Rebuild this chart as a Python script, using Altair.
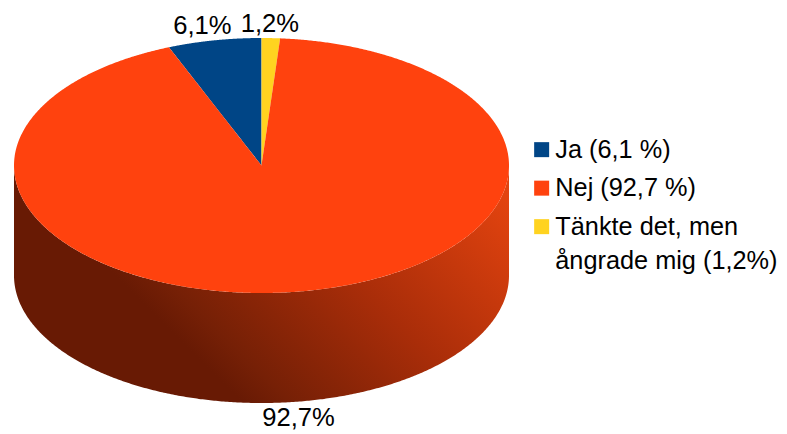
import math
import numpy as np
import pandas as pd
import altair as alt

categories = ["Ja (6,1 %)", "Nej (92,7 %)", "Tänkte det, men|ångrade mig (1,2%)"]
shares = [6.1, 92.7, 1.2]
slice_labels = ["6,1%", "92,7%", "1,2%"]
colors = ["#004586", "#ff420e", "#ffd320"]

ja_t = math.radians(shares[0] * 3.6)
ta_t = math.radians(shares[2] * 3.6)
xj, xt = -math.sin(ja_t), math.sin(ta_t)
slope_j = math.cos(ja_t) / xj
slope_t = math.cos(ta_t) / xt
DEPTH = 0.863


def edge(x):
    return np.sqrt(np.clip(1 - x * x, 0, 1))


def arc_x(lo, hi, n=160):
    a, b = math.asin(lo), math.asin(hi)
    return np.sin(np.linspace(a, b, n))


rows = []
for x in arc_x(xj, 0):
    rows.append((categories[0], x, edge(x), slope_j * x))
for x in arc_x(0, xt, 40):
    rows.append((categories[2], x, edge(x), slope_t * x))
for x in np.concatenate([arc_x(-1, xj, 200), arc_x(xj, 0, 100), arc_x(0, xt, 30), arc_x(xt, 1, 240)]):
    if x < xj or x > xt:
        up = edge(x)
    elif x < 0:
        up = slope_j * x
    else:
        up = slope_t * x
    rows.append((categories[1], x, up, -edge(x)))
top = pd.DataFrame(rows, columns=["cat", "x", "y", "y2"])

xs = arc_x(-1, 1, 400)
side = pd.DataFrame({"x": xs, "y": -edge(xs), "y2": -edge(xs) - DEPTH})

xsc = alt.Scale(domain=[-1, 1], range=[6, 501])
ysc = alt.Scale(domain=[-1, 1], range=[285, 30])
X = alt.X("x:Q", scale=xsc, axis=None)
Y = alt.Y("y:Q", scale=ysc, axis=None)

side_layer = alt.Chart(side).mark_area(
    orient="vertical",
    color=alt.Gradient(
        gradient="linear", x1=0.194, y1=0.44, x2=0.961, y2=0.07,
        stops=[
            alt.GradientStop(color="#681a04", offset=0.0),
            alt.GradientStop(color="#762006", offset=0.1),
            alt.GradientStop(color="#a92d09", offset=0.5),
            alt.GradientStop(color="#e2430f", offset=1.0),
        ],
    ),
).encode(x=X, y=Y, y2="y2:Q")

top_layer = alt.Chart(top).mark_area(orient="vertical").encode(
    x=X, y=Y, y2="y2:Q",
    color=alt.Color(
        "cat:N",
        scale=alt.Scale(domain=categories, range=colors),
        legend=alt.Legend(
            title=None, orient="none", legendX=521, legendY=129,
            symbolType="square", symbolSize=225, symbolStrokeWidth=0,
            symbolOpacity=1, labelFontSize=25.3, labelFont="Liberation Sans",
            labelColor="black", labelLimit=400, labelOffset=1, rowPadding=12.5,
            labelExpr="split(datum.label, '|')",
        ),
    ),
)

lab = pd.DataFrame({
    "x": [-math.sin(ja_t / 2), math.sin(math.pi), math.sin(ta_t / 2)],
    "y": [math.cos(ja_t / 2), -1 - DEPTH, math.cos(ta_t / 2)],
    "t": slice_labels,
})
text_font = dict(font="Liberation Sans", fontSize=25.6, color="black", align="center", baseline="middle")
t0 = alt.Chart(lab.iloc[[0]]).mark_text(dx=-12, dy=-14, **text_font).encode(x=X, y=Y, text="t:N")
t1 = alt.Chart(lab.iloc[[1]]).mark_text(dx=37, dy=15, **text_font).encode(x=X, y=Y, text="t:N")
t2 = alt.Chart(lab.iloc[[2]]).mark_text(dx=-1, dy=-14, **text_font).encode(x=X, y=Y, text="t:N")

chart = alt.layer(side_layer, top_layer, t0, t1, t2).properties(
    width=771, height=424, padding=0, autosize=alt.AutoSizeParams(type="none"),
    background="white",
    config=alt.Config(view=alt.ViewConfig(stroke=None), style={"guide-label": {"lineHeight": 34}}),
)

chart.save("out.html", embed_options={"renderer": "svg", "actions": False})
